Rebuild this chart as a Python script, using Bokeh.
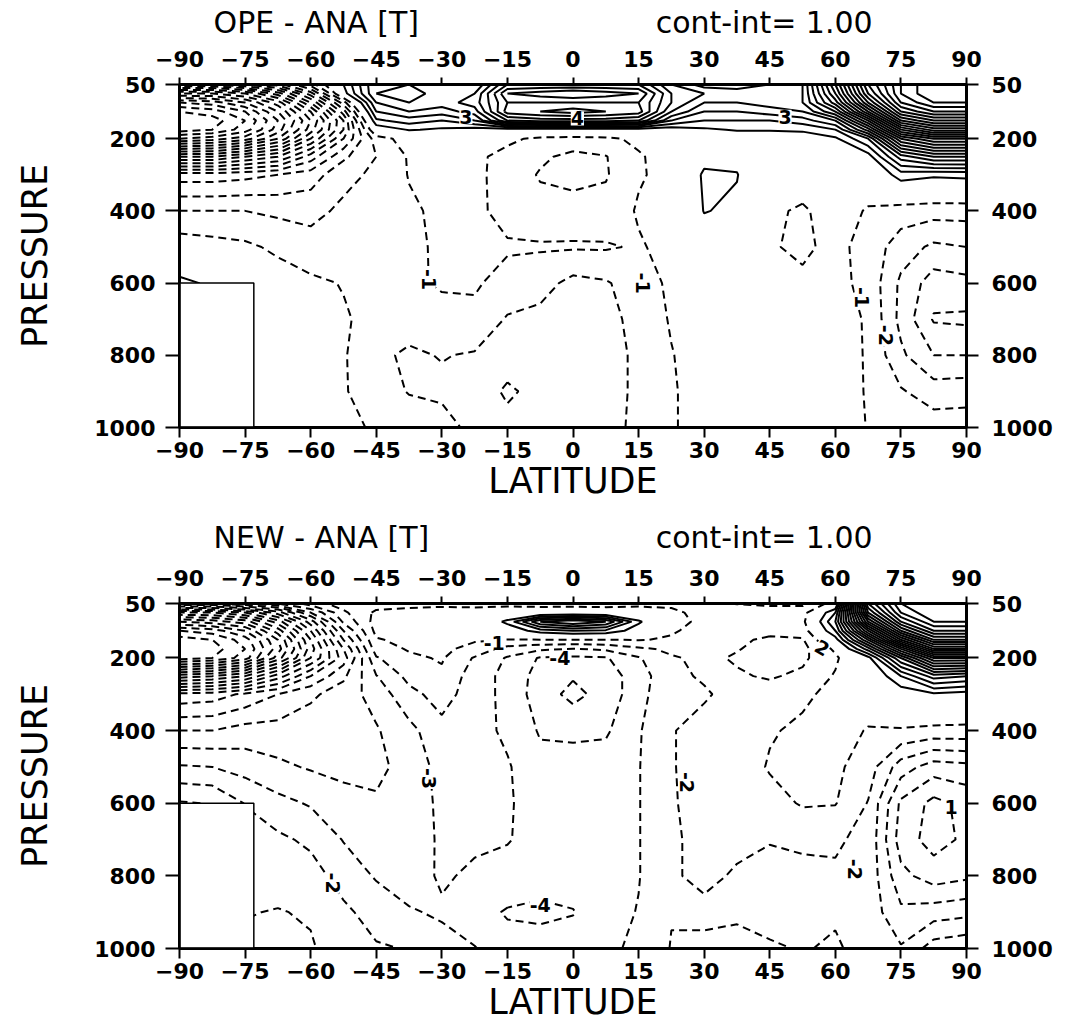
import numpy as np
from bokeh.plotting import figure
from bokeh.models import LinearAxis, FixedTicker, Range1d, LabelSet, ColumnDataSource
from bokeh.layouts import column
from bokeh.core.properties import value
from bokeh.embed import file_html
from bokeh.resources import INLINE

# ---------------- data ----------------
lats = [-90, -82.5, -75, -67.5, -60, -52.5, -45, -37.5, -30, -22.5, -15, -7.5, 0,
        7.5, 15, 22.5, 30, 37.5, 45, 52.5, 60, 67.5, 75, 82.5, 90]
plevs = [50, 75, 100, 125, 150, 175, 200, 250, 300, 400, 500, 600, 700, 800, 900, 1000]

# temperature difference OPE - ANA, one row per latitude (50 hPa ... 1000 hPa)
ope_ana = [
    [-8, -13, -17, -19, -20, -19.5, -17, -10, -4.5, -2, -0.4, 1.3, 1.5, 1.2, 1.0, 1.0],          # -90
    [-8, -13, -16.5, -18.5, -19.5, -19, -16.5, -10, -4.5, -2, -0.6, 0.8, 1.0, 0.8, 0.6, 0.5],     # -82.5
    [-7, -12, -15, -17, -18, -17.5, -15.5, -9, -4.3, -2, -0.8, -0.3, -0.2, -0.2, -0.2, -0.2],     # -75
    [-5.5, -9.5, -12.5, -14, -15, -14.5, -13, -8, -4, -2.2, -1.2, -0.5, -0.3, -0.3, -0.3, -0.3],  # -67.5
    [-2.5, -5.5, -8, -10, -11, -10.5, -9, -5.5, -3.5, -2.3, -1.6, -0.8, -0.6, -0.6, -0.6, -0.6],  # -60
    [1, 0.5, -2.5, -4.5, -6, -6, -5, -3.2, -2.3, -1.8, -1.5, -1.05, -0.9, -0.9, -0.9, -0.9],      # -52.5
    [5, 5, 4, 3, 1.8, 0.2, -1.5, -2, -1.8, -1.5, -1.3, -1.25, -1.3, -1.8, -1.6, -1.05],           # -45
    [5, 5.5, 5, 4, 2.5, 1.1, -0.5, -0.9, -0.95, -1.15, -1.2, -1.15, -1.6, -2.15, -2.05, -1.5],    # -37.5
    [4, 4.5, 4.5, 3.5, 2, 0.8, -0.3, -0.6, -0.7, -0.8, -0.85, -0.9, -1.3, -1.95, -2.2, -1.6],     # -30
    [4, 5, 5.5, 4.5, 3, 0.5, -0.6, -0.8, -0.8, -0.8, -0.8, -0.9, -1.2, -2.1, -2.3, -2.3],         # -22.5
    [8, 10, 9, 9.5, 7, 0.3, -0.8, -1.3, -1.35, -1.3, -0.9, -1.3, -2.1, -2.4, -3.2, -2.6],         # -15
    [8, 10.5, 9, 10, 7.5, 0.3, -1.2, -1.8, -2.1, -1.6, -0.9, -1.6, -2.3, -2.5, -2.6, -2.5],       # -7.5
    [8, 11, 9, 10.5, 7.5, 0.3, -1.3, -2.3, -2.4, -1.5, -0.9, -2.3, -2.5, -2.6, -2.6, -2.5],       # 0
    [8, 10.5, 9, 10, 7.5, 0.3, -1.2, -2.05, -2.1, -1.6, -0.9, -2.1, -2.3, -2.4, -2.4, -2.3],      # 7.5
    [8, 10, 9, 9.5, 7, 0.3, -0.8, -1.1, -1.1, -0.9, -1.1, -1.5, -1.7, -1.8, -1.8, -1.8],          # 15
    [5, 6, 6, 5, 3, 0.3, -0.5, -0.6, -0.7, -0.6, -0.7, -0.8, -0.9, -1.05, -1.1, -1.1],            # 22.5
    [3.5, 5, 4, 3, 2, 0.8, 0.2, 0.6, 1.2, 1.05, 0.3, -0.3, -0.4, -0.5, -0.6, -0.6],               # 30
    [3.5, 4.5, 4, 3, 2, 1.1, 0.3, 0.7, 1.05, 0.8, 0.2, -0.3, -0.4, -0.5, -0.5, -0.5],             # 37.5
    [4, 4.5, 4.5, 3.5, 2, 1.1, 0.2, 0, -0.3, -0.8, -0.9, -0.6, -0.4, -0.4, -0.4, -0.4],           # 45
    [5, 5, 5, 4, 2.5, 1.2, 0.3, 0, -0.4, -1.15, -1.2, -0.8, -0.5, -0.4, -0.3, -0.3],              # 52.5
    [12, 11, 9.5, 7, 4, 2, 0.8, 0.3, 0, -0.5, -0.7, -0.7, -0.6, -0.5, -0.4, -0.4],                # 60
    [20, 19, 17, 14, 10, 6.5, 3, 0.5, -0.3, -1.1, -1.4, -1.3, -1.1, -1.1, -1.1, -1.05],           # 67.5
    [24, 24, 23, 21, 18, 14, 10, 4.5, 1.5, -1.5, -2.5, -3.2, -3.3, -2.8, -1.9, -1.4],             # 75
    [26, 26, 25, 23, 20, 16.5, 12, 6, 1.2, -1.6, -3.2, -4.5, -5.1, -4, -2.5, -1.5],               # 82.5
    [26, 26, 25, 23, 20, 16.5, 12, 6, 1.3, -1.6, -3, -4.3, -5.2, -4, -2.4, -1.5],                 # 90
]

# temperature difference NEW - ANA, one row per latitude (50 hPa ... 1000 hPa)
new_ana = [
    [-6, -12, -16, -19, -20.5, -21, -20.5, -13.5, -7.7, -5, -2.9, -0.9, -0.5, -0.3, -0.3, -0.3],       # -90
    [-6, -12, -15.5, -18.5, -20, -20.5, -20, -13, -7.5, -5, -3, -1.05, -0.5, -0.3, -0.3, -0.3],        # -82.5
    [-5, -11, -14.5, -17, -18.5, -19, -18.5, -12, -6.8, -4.6, -3.4, -2.05, -1.5, -1.2, -1.05, -0.8],   # -75
    [-4, -8.5, -11.5, -13.5, -15, -15.5, -14.5, -9.5, -6, -4.6, -3.8, -2.7, -1.8, -1.4, -0.95, -0.7],  # -67.5
    [-2.5, -5, -7.5, -9, -10, -10.5, -10, -7, -5.2, -4.4, -4.1, -3.1, -2.2, -1.6, -1.1, -0.9],         # -60
    [-1.5, -2.2, -2.8, -4, -5, -6, -6.5, -5.2, -4.5, -4.2, -4.3, -3.6, -3.05, -2.4, -1.8, -1.5],       # -52.5
    [-1.5, -0.8, -0.6, -0.7, -1.1, -1.5, -2.1, -3.05, -3.6, -4.1, -4.2, -3.9, -3.4, -3.1, -2.4, -1.9],  # -45
    [-1.4, -0.6, -0.4, -0.5, -0.7, -0.9, -1.2, -1.7, -2.3, -3.3, -3.7, -3.8, -3.7, -3.5, -2.9, -2.05],  # -37.5
    [-1.3, -0.5, -0.3, -0.4, -0.5, -0.8, -0.9, -1.2, -1.6, -2.3, -2.6, -2.7, -2.8, -2.85, -3.15, -2.6],  # -30
    [-1.3, -0.6, -0.4, -0.6, -0.9, -1.3, -2.1, -2.5, -2.5, -2.6, -2.7, -2.8, -2.8, -3.2, -3.6, -2.95],  # -22.5
    [-1.3, -0.4, 1.3, 0.2, -1.05, -2.4, -3.1, -3.3, -3.3, -3.2, -2.9, -2.9, -2.95, -3.3, -4.1, -3.6],   # -15
    [-1.3, -0.5, 5.0, 1.5, -1.05, -2.8, -4.1, -4.4, -4.5, -4.1, -3.7, -3.4, -3.3, -3.6, -4.2, -3.6],    # -7.5
    [-1.4, -0.3, 6.0, 2.0, -1.05, -3.05, -4.2, -4.9, -5.3, -4.2, -3.6, -3.4, -3.3, -3.5, -4.05, -3.5],  # 0
    [-1.4, -0.4, 5.0, 1.8, -1.05, -2.8, -4.1, -4.5, -4.6, -4.15, -3.5, -3.3, -3.2, -3.3, -3.4, -3.2],   # 7.5
    [-1.3, -0.4, 1.2, 0.4, -0.95, -2.2, -3.1, -3.5, -3.4, -3.1, -3.05, -3.05, -3.05, -3.05, -2.95, -2.8],  # 15
    [-1.2, -0.8, -0.7, -0.9, -1.1, -1.8, -2.1, -2.2, -2.1, -2.05, -2.05, -2.05, -2.05, -2.05, -2.05, -1.95],  # 22.5
    [-1.8, -1.3, -1.2, -1.3, -1.5, -1.7, -1.8, -1.9, -2.1, -1.7, -1.7, -1.8, -1.9, -1.9, -2.1, -1.9],   # 30
    [-2.05, -1.4, -1.3, -1.5, -1.8, -1.95, -2.1, -1.9, -1.7, -1.5, -1.6, -1.8, -1.9, -2.05, -2.1, -1.8],  # 37.5
    [-2.2, -1.5, -1.3, -1.7, -2.2, -2.3, -2.3, -2.1, -1.6, -1.1, -0.9, -1.4, -1.95, -2.3, -2.3, -1.9],  # 45
    [-2.2, -1.5, -1.3, -1.6, -2.1, -2.3, -2.2, -1.8, -1.2, -0.8, -0.7, -0.9, -1.8, -2.3, -2.4, -2.05],  # 52.5
    [-0.5, 2, 3, 2, 0.5, -0.8, -1.2, -0.9, -0.7, -0.7, -0.8, -0.95, -1.9, -2.1, -2.1, -1.9],           # 60
    [20, 18, 15, 11, 7, 3.5, 0.6, -0.3, -0.6, -1.05, -1.5, -2.05, -2.2, -2.3, -2.4, -2.3],             # 67.5
    [25, 24, 22, 19, 15, 10, 6, 2, 0.3, -1.1, -3.5, -5.2, -5.5, -4.7, -3.8, -2.9],                     # 75
    [26, 26, 25, 23, 20, 16, 11, 4.5, 0.8, -1.3, -4.5, -6.3, -6.4, -5.5, -3.5, -1.5],                  # 82.5
    [26, 26, 25, 23, 20, 16, 11, 4, 0.5, -1.3, -4.3, -5.7, -5.8, -5.2, -3.3, -1.2],                    # 90
]

# Antarctic orography mask
mask_lat = [-90, -73]
mask_p = [600, 1000]

lat_ticks = [-90, -75, -60, -45, -30, -15, 0, 15, 30, 45, 60, 75, 90]
p_ticks = [50, 200, 400, 600, 800, 1000]

# panel header texts and where they start (latitude units)
header_left = ["OPE - ANA [T]", "NEW - ANA [T]"]
header_right = "cont-int= 1.00"
header_lat = [-82.2, 18.9]

# contour labels
ope_lab_lat = [-24.5, 1, 48.5, -33, 16, 66, 71.5]
ope_lab_p = [141, 144, 139, 590, 600, 640, 745]
ope_lab_text = ["3", "4", "3", "-1", "-1", "-1", "-2"]
ope_lab_angle = [0, 0, 0, -90, -90, -90, -90]

new_lab_lat = [-18, -3, -33, -55, -7.5, 26, 57, 64.6, 86.5]
new_lab_p = [158, 200, 532, 820, 880, 543, 172, 782, 610]
new_lab_text = ["-1", "-4", "-3", "-2", "-4", "-2", "2", "-2", "1"]
new_lab_angle = [0, 0, -90, -90, 0, -90, -30, -90, 0]

FONT = "DejaVu Sans"
W = 1072
LEFT, RIGHT = 179, 106
HEAD_H = 40


def header(left_text):
    t = figure(width=W, height=HEAD_H, x_range=Range1d(-90, 90), y_range=Range1d(0, HEAD_H),
               output_backend="svg", toolbar_location=None, title=None,
               min_border_left=LEFT, min_border_right=RIGHT, min_border_top=0, min_border_bottom=0,
               x_axis_location=None, y_axis_location=None)
    t.grid.visible = False
    t.outline_line_color = None
    t.text(x=header_lat, y=[18, 18], text=[left_text, header_right],
           text_font=value(FONT), text_font_size="30px", text_color="black",
           text_baseline="middle", text_align="left")
    return t


def panel(field, lab_lat, lab_p, lab_text, lab_angle, height, b_top, b_bottom):
    z = np.array(field, dtype=float).T  # (n_plev, n_lat)
    p = figure(width=W, height=height, x_range=Range1d(-90, 90), y_range=Range1d(1000, 50),
               output_backend="svg", toolbar_location=None, title=None,
               min_border_left=LEFT, min_border_right=RIGHT,
               min_border_top=b_top, min_border_bottom=b_bottom,
               x_axis_label="LATITUDE", y_axis_label="PRESSURE")
    p.grid.visible = False
    p.outline_line_color = "black"
    p.outline_line_width = 3
    p.background_fill_color = "white"
    p.border_fill_color = "white"

    neg = [float(l) for l in range(-30, 0) if l > z.min()]
    pos = [float(l) for l in range(1, 31) if l < z.max()]
    p.contour(x=lats, y=plevs, z=z, levels=neg, line_color="black", line_width=2.0, line_dash="8 5")
    p.contour(x=lats, y=plevs, z=z, levels=pos, line_color="black", line_width=2.0)

    p.quad(left=[mask_lat[0]], right=[mask_lat[1]], top=[mask_p[0]], bottom=[mask_p[1]],
           fill_color="white", line_color="black", line_width=1.5)

    src = ColumnDataSource(dict(lat=lab_lat, p=lab_p, text=lab_text, angle=lab_angle))
    p.add_layout(LabelSet(x="lat", y="p", text="text", angle="angle", angle_units="deg", source=src,
                          text_font=value(FONT), text_font_style="bold", text_font_size="19px",
                          text_color="black", text_align="center", text_baseline="middle",
                          background_fill_color="white"))

    p.add_layout(LinearAxis(), "above")
    p.add_layout(LinearAxis(), "right")
    for ax in p.xaxis:
        ax.ticker = FixedTicker(ticks=lat_ticks)
    for ax in p.yaxis:
        ax.ticker = FixedTicker(ticks=p_ticks)
    for ax in p.axis:
        ax.major_label_text_font = FONT
        ax.major_label_text_font_style = "bold"
        ax.major_label_text_font_size = "22px"
        ax.major_label_text_color = "black"
        ax.axis_line_width = 2.5
        ax.axis_line_color = "black"
        ax.major_tick_line_width = 2
        ax.major_tick_line_color = "black"
        ax.major_tick_in = 0
        ax.major_tick_out = 10
        ax.minor_tick_line_color = None
        ax.axis_label_text_font = FONT
        ax.axis_label_text_font_style = "normal"
        ax.axis_label_text_font_size = "35px"
        ax.axis_label_text_color = "black"
    p.above[0].major_tick_out = 7
    p.above[0].major_label_standoff = 11
    p.below[0].major_label_standoff = 4
    p.below[0].axis_label_standoff = 0
    p.left[0].major_tick_out = 14
    p.left[0].major_label_standoff = 10
    p.left[0].axis_label_standoff = 36
    p.right[0].major_tick_out = 12
    p.right[0].major_label_standoff = 13
    return p


h1 = header(header_left[0])
p1 = panel(ope_ana, ope_lab_lat, ope_lab_p, ope_lab_text, ope_lab_angle, 475, 44, 88)
h2 = header(header_left[1])
p2 = panel(new_ana, new_lab_lat, new_lab_p, new_lab_text, new_lab_angle, 472, 48, 79)

layout = column(h1, p1, h2, p2)
open("out.html", "w").write(file_html(layout, INLINE))
